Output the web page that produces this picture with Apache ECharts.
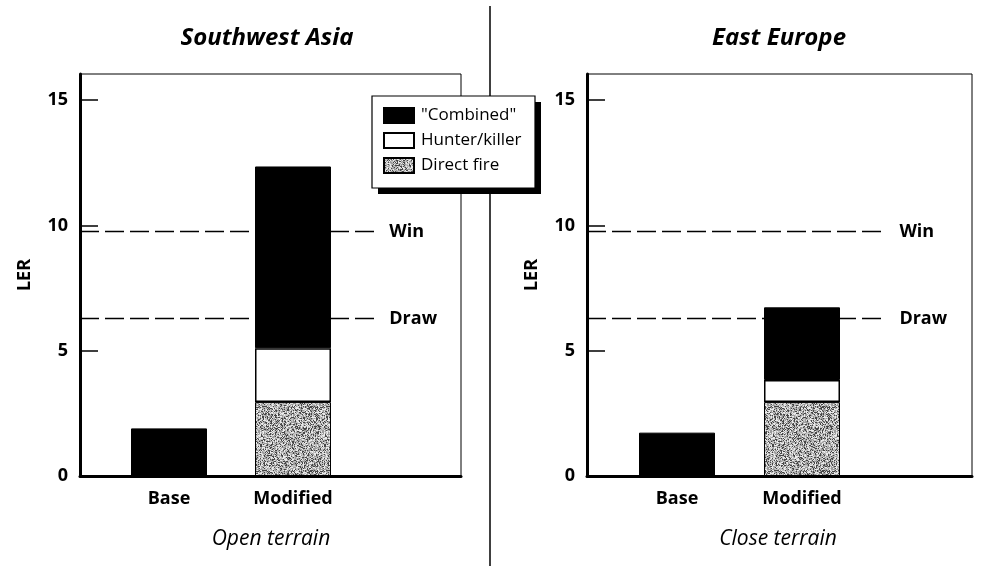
<!DOCTYPE html>
<html><head><meta charset="utf-8">
<script src="https://cdn.jsdelivr.net/npm/echarts@6/dist/echarts.min.js"></script>
<style>html,body{margin:0;padding:0;background:#fff}#c{width:995px;height:577px}</style>
</head><body><div id="c"></div>
<script>
// ---- data ----
const categories = ['Base', 'Modified'];
const seriesNames = ['"Combined"', 'Hunter/killer', 'Direct fire'];
// Southwest Asia (segment heights, stacked bottom to top: direct, hunter, combined)
const swaDirect = ['-', 2.95];
const swaHunter = ['-', 2.15];
const swaCombined = [1.9, 7.25];
// East Europe
const eeDirect = ['-', 2.95];
const eeHunter = ['-', 0.88];
const eeCombined = [1.73, 2.9];
// thresholds
const winLevel = 9.76;
const drawLevel = 6.28;
const yTicks = [0, 5, 10, 15];
const panelTitles = ['Southwest Asia', 'East Europe'];
const terrainLabels = ['Open terrain', 'Close terrain'];

// ---- style helpers ----
const FONT = '"Open Sans", "Noto Sans", sans-serif';
const Y_MAX = 16.04;
function makeTexture() {
  const c = document.createElement('canvas');
  c.width = 64; c.height = 64;
  const ctx = c.getContext('2d');
  const img = ctx.createImageData(64, 64);
  for (let y = 0; y < 64; y++) for (let x = 0; x < 64; x++) {
    let h = (Math.imul(x, 374761393) + Math.imul(y, 668265263)) | 0;
    h = Math.imul(h ^ (h >>> 13), 1274126177);
    h ^= h >>> 16;
    const v = (h >>> 0) % 256;
    const g = v < 60 ? 70 : v < 130 ? 155 : v < 200 ? 195 : 235;
    const i = (y * 64 + x) * 4;
    img.data[i] = img.data[i + 1] = img.data[i + 2] = g;
    img.data[i + 3] = 255;
  }
  ctx.putImageData(img, 0, 0);
  return c;
}
const texture = { image: makeTexture(), repeat: 'repeat' };

const frames = [
  { left: 80, width: 381, dataLeft: 107, dataWidth: 248, titleX: 262, subX: 266 },
  { left: 587, width: 385, dataLeft: 614.5, dataWidth: 250, titleX: 774, subX: 773 }
];
const panelData = [
  [swaDirect, swaHunter, swaCombined],
  [eeDirect, eeHunter, eeCombined]
];

const grid = [], xAxis = [], yAxis = [], series = [], title = [];
frames.forEach((f, p) => {
  grid.push({ left: f.left, width: f.width, top: 74, height: 402, show: true,
    borderColor: '#000', borderWidth: 1, backgroundColor: 'transparent' });
  grid.push({ left: f.dataLeft, width: f.dataWidth, top: 74, height: 402 });
  xAxis.push({ type: 'value', gridIndex: 2 * p, min: 0, max: 1, position: 'bottom',
    axisLine: { show: true, onZero: false, lineStyle: { color: '#000', width: 3 } },
    axisTick: { show: false }, axisLabel: { show: false }, splitLine: { show: false } });
  xAxis.push({ type: 'category', gridIndex: 2 * p + 1, data: categories,
    axisLine: { show: false }, axisTick: { show: false },
    axisLabel: { color: '#000', fontSize: 18, fontWeight: 'bold', fontFamily: FONT, margin: 14 } });
  yAxis.push({ type: 'value', gridIndex: 2 * p, min: 0, max: Y_MAX, interval: 5,
    name: 'LER', nameLocation: 'middle', nameGap: 46, nameRotate: 90,
    nameTextStyle: { color: '#000', fontSize: 18, fontWeight: 'bold', fontFamily: FONT },
    axisLine: { show: true, lineStyle: { color: '#000', width: 3 } },
    axisTick: { show: true, inside: true, length: 18, lineStyle: { color: '#000', width: 1.5 } },
    axisLabel: { color: '#000', fontSize: 18, fontWeight: 'bold', fontFamily: FONT, margin: 12,
      showMaxLabel: false, formatter: v => (yTicks.indexOf(v) >= 0 ? String(v) : '') },
    splitLine: { show: false } });
  yAxis.push({ type: 'value', gridIndex: 2 * p + 1, min: 0, max: Y_MAX, show: false });

  const [d, h, c] = panelData[p];
  const barCommon = { type: 'bar', stack: 'p' + p, xAxisIndex: 2 * p + 1, yAxisIndex: 2 * p + 1,
    barWidth: 76, z: 3, animation: false };
  series.push(Object.assign({ name: seriesNames[2], data: d,
    itemStyle: { color: texture, borderColor: '#000', borderWidth: 1 } }, barCommon));
  series.push(Object.assign({ name: seriesNames[1], data: h,
    itemStyle: { color: '#fff', borderColor: '#000', borderWidth: 1.5 } }, barCommon));
  series.push(Object.assign({ name: seriesNames[0], data: c,
    itemStyle: { color: '#000', borderColor: '#000', borderWidth: 1 } }, barCommon));

  [['Win', winLevel], ['Draw', drawLevel]].forEach(([lab, lvl]) => {
    series.push({ type: 'line', xAxisIndex: 2 * p, yAxisIndex: 2 * p, z: 1, silent: true,
      animation: false, showSymbol: false, symbol: 'none',
      data: [[0, lvl], [0.775, lvl]],
      lineStyle: { color: '#000', width: 1.5, type: [19, 6] },
      endLabel: { show: true, formatter: lab, distance: 14, color: '#000', fontSize: 18,
        fontWeight: 'bold', fontFamily: FONT } });
  });

  title.push({ text: panelTitles[p], left: f.titleX, top: 21, textAlign: 'center',
    textStyle: { color: '#000', fontSize: 24, fontWeight: 'bold', fontStyle: 'italic', fontFamily: FONT } });
  title.push({ text: terrainLabels[p], left: f.subX, top: 524, textAlign: 'center',
    textStyle: { color: '#000', fontSize: 21, fontWeight: 'normal', fontStyle: 'italic', fontFamily: FONT } });
});

const chart = echarts.init(document.getElementById('c'), null, { renderer: 'canvas' });
chart.setOption({
  animation: false,
  backgroundColor: '#fff',
  title, grid, xAxis, yAxis, series,
  legend: {
    data: seriesNames, orient: 'vertical', left: 383, top: 107, z: 20,
    padding: 0, itemWidth: 30, itemHeight: 15, itemGap: 8,
    icon: 'rect', selectedMode: false,
    textStyle: { color: '#000', fontSize: 17, fontFamily: FONT, padding: [0, 0, 0, 2] }
  },
  graphic: [
    { type: 'line', z: 0, shape: { x1: 490, y1: 6, x2: 490, y2: 566 },
      style: { stroke: '#000', lineWidth: 1.5 } },
    { type: 'rect', z: 15, shape: { x: 378, y: 102, width: 163, height: 92 },
      style: { fill: '#000' } },
    { type: 'rect', z: 16, shape: { x: 372, y: 96, width: 163, height: 92 },
      style: { fill: '#fff', stroke: '#000', lineWidth: 1.2 } }
  ]
});
</script>
</body></html>
